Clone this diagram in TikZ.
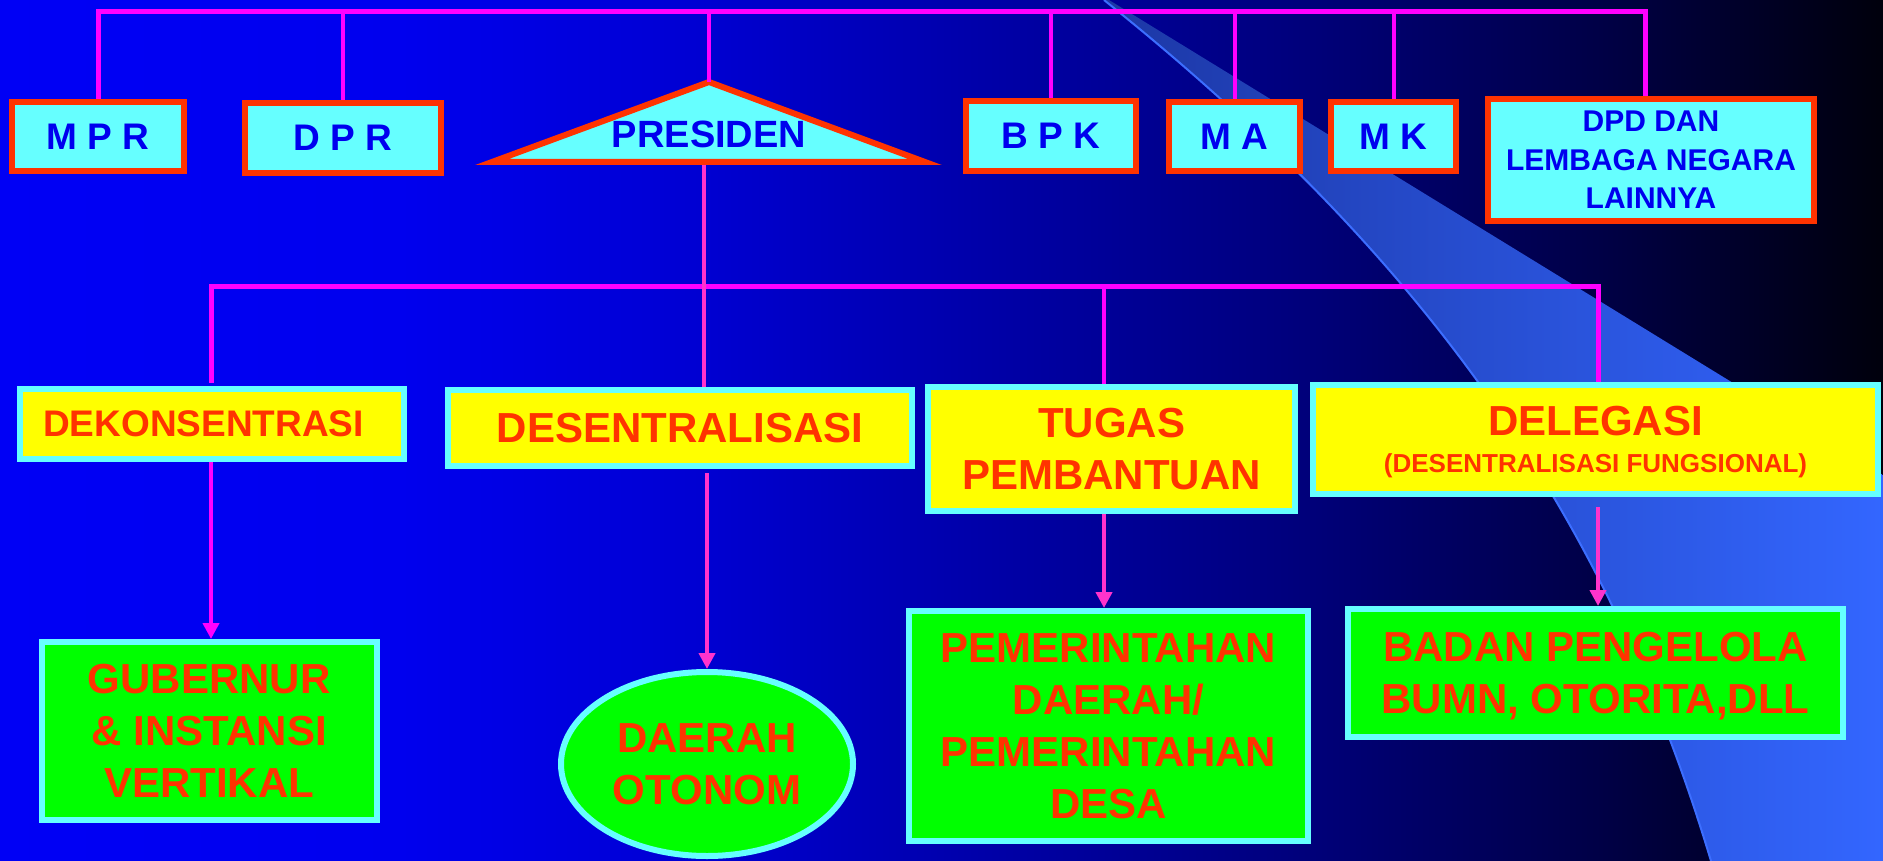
\documentclass[tikz,border=0pt]{standalone}
\usepackage{fontspec}
\setmainfont{Liberation Sans}
\usetikzlibrary{arrows.meta,shapes.geometric}
\definecolor{bg0}{RGB}{0,0,245}
\definecolor{bg1}{RGB}{0,0,238}
\definecolor{bg2}{RGB}{0,0,210}
\definecolor{bg3}{RGB}{0,0,172}
\definecolor{bg4}{RGB}{0,0,125}
\definecolor{bg5}{RGB}{0,0,70}
\definecolor{bg6}{RGB}{0,0,12}
\definecolor{bandL}{RGB}{28,55,165}
\definecolor{bandM}{RGB}{46,92,232}
\definecolor{bandR}{RGB}{51,102,255}
\definecolor{bandline}{RGB}{60,110,255}
\definecolor{redc}{RGB}{255,51,0}
\definecolor{cyanc}{RGB}{102,255,255}
\definecolor{yellowc}{RGB}{255,255,0}
\definecolor{greenc}{RGB}{0,255,0}
\definecolor{bluetxt}{RGB}{0,0,238}
\definecolor{magc}{RGB}{255,0,255}
\definecolor{pinkc}{RGB}{255,51,204}
\begin{document}
\begin{tikzpicture}[x=0.5pt,y=-0.5pt,
  topbox/.style={draw=redc, line width=3pt, fill=cyanc, text=bluetxt, inner sep=0pt, align=center,
    font=\bfseries\fontsize{18.5pt}{22pt}\selectfont},
  midbox/.style={draw=cyanc, line width=3pt, fill=yellowc, text=redc, inner sep=0pt, align=center,
    font=\bfseries\fontsize{21pt}{26pt}\selectfont},
  lowbox/.style={draw=cyanc, line width=3pt, fill=greenc, text=redc, inner sep=0pt, align=center,
    font=\bfseries\fontsize{21pt}{26pt}\selectfont},
  busline/.style={draw=magc, line width=2.5pt},
  linkline/.style={draw=magc, line width=2pt},
  pinkline/.style={draw=pinkc, line width=2pt},
  arr/.style={line width=2pt, -{Triangle[width=8pt,length=8pt]}}
]
\useasboundingbox (0,0) rectangle (1883,861);
% background
\shade[left color=bg0, right color=bg1] (0,0) rectangle (401,861);
\shade[left color=bg1, right color=bg2] (400,0) rectangle (701,861);
\shade[left color=bg2, right color=bg3] (700,0) rectangle (961,861);
\shade[left color=bg3, right color=bg4] (960,0) rectangle (1291,861);
\shade[left color=bg4, right color=bg5] (1290,0) rectangle (1601,861);
\shade[left color=bg5, right color=bg6] (1600,0) rectangle (1883,861);
% swoosh
\shade[left color=bandL, middle color=bandM, right color=bandR]
  (1104,0) .. controls (1425,257) and (1607,515) .. (1711,861) -- (1883,861) -- (1883,475) -- (1109,0) -- cycle;
\draw[bandline, line width=1pt] (1104,0) .. controls (1425,257) and (1607,515) .. (1711,861);

% top row
\node[topbox, minimum width=86pt, minimum height=34.5pt] (mpr) at (98,136.5) {M P R};
\node[topbox, minimum width=98pt, minimum height=35pt] (dpr) at (343,138) {D P R};
\node[topbox, minimum width=85pt, minimum height=35pt] (bpk) at (1051,136) {B P K};
\node[topbox, minimum width=65.5pt, minimum height=34.5pt] (ma) at (1234.5,136.5) {M A};
\node[topbox, minimum width=62.5pt, minimum height=34.5pt] (mk) at (1393.5,136.5) {M K};
\node[topbox, minimum width=163pt, minimum height=61pt, font=\bfseries\fontsize{15pt}{19.25pt}\selectfont]
  (dpd) at (1651,160) {DPD DAN\\LEMBAGA NEGARA\\LAINNYA};
\draw[draw=redc, fill=cyanc, line width=3pt, line join=miter]
  (709,82) coordinate (presTop) -- (925,162) -- (492,162) -- cycle;
\node[text=bluetxt, inner sep=0pt, font=\bfseries\fontsize{19pt}{22pt}\selectfont] (pres) at (709,134.5) {PRESIDEN};
\coordinate (presBot) at (704,165);

% middle row
\node[midbox, minimum width=192pt, minimum height=35pt, font=\bfseries\fontsize{18.5pt}{22pt}\selectfont]
  (dekon) at (211.5,424) {DEKONSENTRASI\hspace*{8pt}};
\node[midbox, minimum width=232pt, minimum height=38pt] (desen) at (680,428) {DESENTRALISASI};
\node[midbox, minimum width=183.5pt, minimum height=62pt] (tugas) at (1111.5,449) {TUGAS\\PEMBANTUAN};
\node[midbox, minimum width=282.5pt, minimum height=54.5pt, text depth=-3.9pt] (deleg) at (1595.5,439.5)
  {DELEGASI\\[-7.75pt]{\fontsize{13pt}{15pt}\selectfont (DESENTRALISASI FUNGSIONAL)}};

% bottom row
\node[lowbox, minimum width=167.5pt, minimum height=89pt] (gub) at (209.3,731) {GUBERNUR\\\& INSTANSI\\VERTIKAL};
\node[lowbox, ellipse, minimum width=146pt, minimum height=92pt] (daerah) at (707,764) {DAERAH\\OTONOM};
\node[lowbox, minimum width=199.5pt, minimum height=115pt] (pem) at (1108.5,726)
  {PEMERINTAHAN\\DAERAH/\\PEMERINTAHAN\\DESA};
\node[lowbox, minimum width=247.5pt, minimum height=64pt, text depth=-3.5pt] (badan) at (1595.5,673)
  {BADAN PENGELOLA\\BUMN, OTORITA,DLL};

% column coordinates
\coordinate (busA) at (0,11.5);
\coordinate (busB) at (0,286.5);
\coordinate (colA) at (211,0);
\coordinate (colB) at (704,0);
\coordinate (colC) at (1104,0);
\coordinate (colD) at (1598,0);
\coordinate (colE) at (1645,0);

% top connectors
\draw[busline] (mpr.north) |- (busA -| colE) -- (dpd.north -| colE);
\draw[linkline] (dpr.north) -- (dpr.north |- busA);
\draw[linkline] (presTop) -- (presTop |- busA);
\draw[linkline] (bpk.north) -- (bpk.north |- busA);
\draw[linkline] (ma.north) -- (ma.north |- busA);
\draw[linkline] (mk.north) -- (mk.north |- busA);

% second level connectors
\draw[busline, shorten <=1.5pt] (dekon.north -| colA) |- (busB -| colD) -- (deleg.north -| colD);
\draw[pinkline] (presBot -| colB) -- (desen.north -| colB);
\draw[linkline] (busB -| colC) -- (tugas.north -| colC);

% arrows
\draw[arr, draw=magc, fill=magc] (dekon.south -| colA) -- (gub.north -| colA);
\draw[arr, draw=pinkc, fill=pinkc, shorten <=2pt] (desen.south -| daerah.north) -- (daerah.north);
\draw[arr, draw=pinkc, fill=pinkc] (tugas.south -| colC) -- (pem.north -| colC);
\draw[arr, draw=pinkc, fill=pinkc, shorten <=5pt] (deleg.south -| colD) -- (badan.north -| colD);
\end{tikzpicture}
\end{document}
